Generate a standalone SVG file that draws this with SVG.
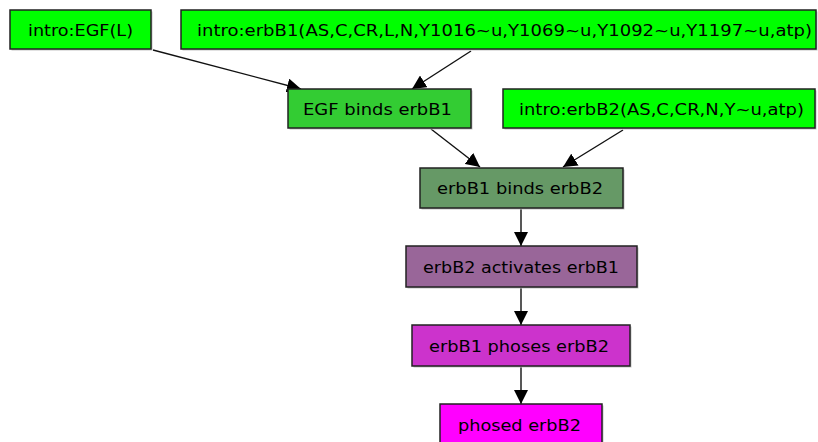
<svg xmlns="http://www.w3.org/2000/svg" width="818" height="442" viewBox="0 0 818 442">
<style>
.box{stroke:#222;stroke-width:1.5}
.sh{fill:#c4c4c4}
.t{font-family:"DejaVu Sans","Liberation Sans",sans-serif;font-size:16px;fill:#000}
.e{stroke:#111;stroke-width:1.4;fill:none}
</style>
<defs>
<marker id="ah" markerUnits="userSpaceOnUse" markerWidth="14" markerHeight="14" refX="12" refY="6" orient="auto" viewBox="0 0 12 12">
<path d="M0,0 L12,6 L0,12 Z" fill="#000"/>
</marker>
</defs>
<rect width="818" height="442" fill="#fff"/>
<g id="connectors">
<line class="e" x1="153" y1="50" x2="301" y2="89" marker-end="url(#ah)"/>
<line class="e" x1="471" y1="51" x2="412" y2="89" marker-end="url(#ah)"/>
<line class="e" x1="431" y1="129" x2="480" y2="167" marker-end="url(#ah)"/>
<line class="e" x1="623" y1="130" x2="563" y2="167" marker-end="url(#ah)"/>
<line class="e" x1="521" y1="208" x2="521" y2="246" marker-end="url(#ah)"/>
<line class="e" x1="521" y1="287" x2="521" y2="325" marker-end="url(#ah)"/>
<line class="e" x1="521" y1="366" x2="521" y2="404" marker-end="url(#ah)"/>
</g>
<g id="n_egf">
<rect class="sh" x="11.5" y="11.5" width="141" height="39"/>
<rect class="box" x="10" y="10" width="141" height="39" fill="#00ff00"/>
<text class="t" x="28" y="36" textLength="105" lengthAdjust="spacingAndGlyphs">intro:EGF(L)</text>
</g>
<g id="n_erbb1">
<rect class="sh" x="182.5" y="11.5" width="635" height="39"/>
<rect class="box" x="181" y="10" width="635" height="39" fill="#00ff00"/>
<text class="t" x="197" y="36" textLength="615" lengthAdjust="spacingAndGlyphs">intro:erbB1(AS,C,CR,L,N,Y1016~u,Y1069~u,Y1092~u,Y1197~u,atp)</text>
</g>
<g id="n_egfbinds">
<rect class="sh" x="289.5" y="90.5" width="183" height="39"/>
<rect class="box" x="288" y="89" width="183" height="39" fill="#33cc33"/>
<text class="t" x="303" y="115" textLength="149" lengthAdjust="spacingAndGlyphs">EGF binds erbB1</text>
</g>
<g id="n_erbb2">
<rect class="sh" x="504.5" y="90.5" width="312" height="39"/>
<rect class="box" x="503" y="89" width="312" height="39" fill="#00ff00"/>
<text class="t" x="519" y="115" textLength="285" lengthAdjust="spacingAndGlyphs">intro:erbB2(AS,C,CR,N,Y~u,atp)</text>
</g>
<g id="n_binds">
<rect class="sh" x="421.5" y="169.5" width="203" height="40"/>
<rect class="box" x="420" y="168" width="203" height="40" fill="#669966"/>
<text class="t" x="437" y="194" textLength="166" lengthAdjust="spacingAndGlyphs">erbB1 binds erbB2</text>
</g>
<g id="n_activates">
<rect class="sh" x="407.5" y="247.5" width="231" height="41"/>
<rect class="box" x="406" y="246" width="231" height="41" fill="#996699"/>
<text class="t" x="423" y="273" textLength="196" lengthAdjust="spacingAndGlyphs">erbB2 activates erbB1</text>
</g>
<g id="n_phoses">
<rect class="sh" x="413.5" y="326.5" width="218" height="41"/>
<rect class="box" x="412" y="325" width="218" height="41" fill="#cc33cc"/>
<text class="t" x="429" y="352" textLength="180" lengthAdjust="spacingAndGlyphs">erbB1 phoses erbB2</text>
</g>
<g id="n_phosed">
<rect class="sh" x="441.5" y="405.5" width="162" height="41"/>
<rect class="box" x="440" y="404" width="162" height="41" fill="#ff00ff"/>
<text class="t" x="458" y="431" textLength="123" lengthAdjust="spacingAndGlyphs">phosed erbB2</text>
</g>
</svg>
